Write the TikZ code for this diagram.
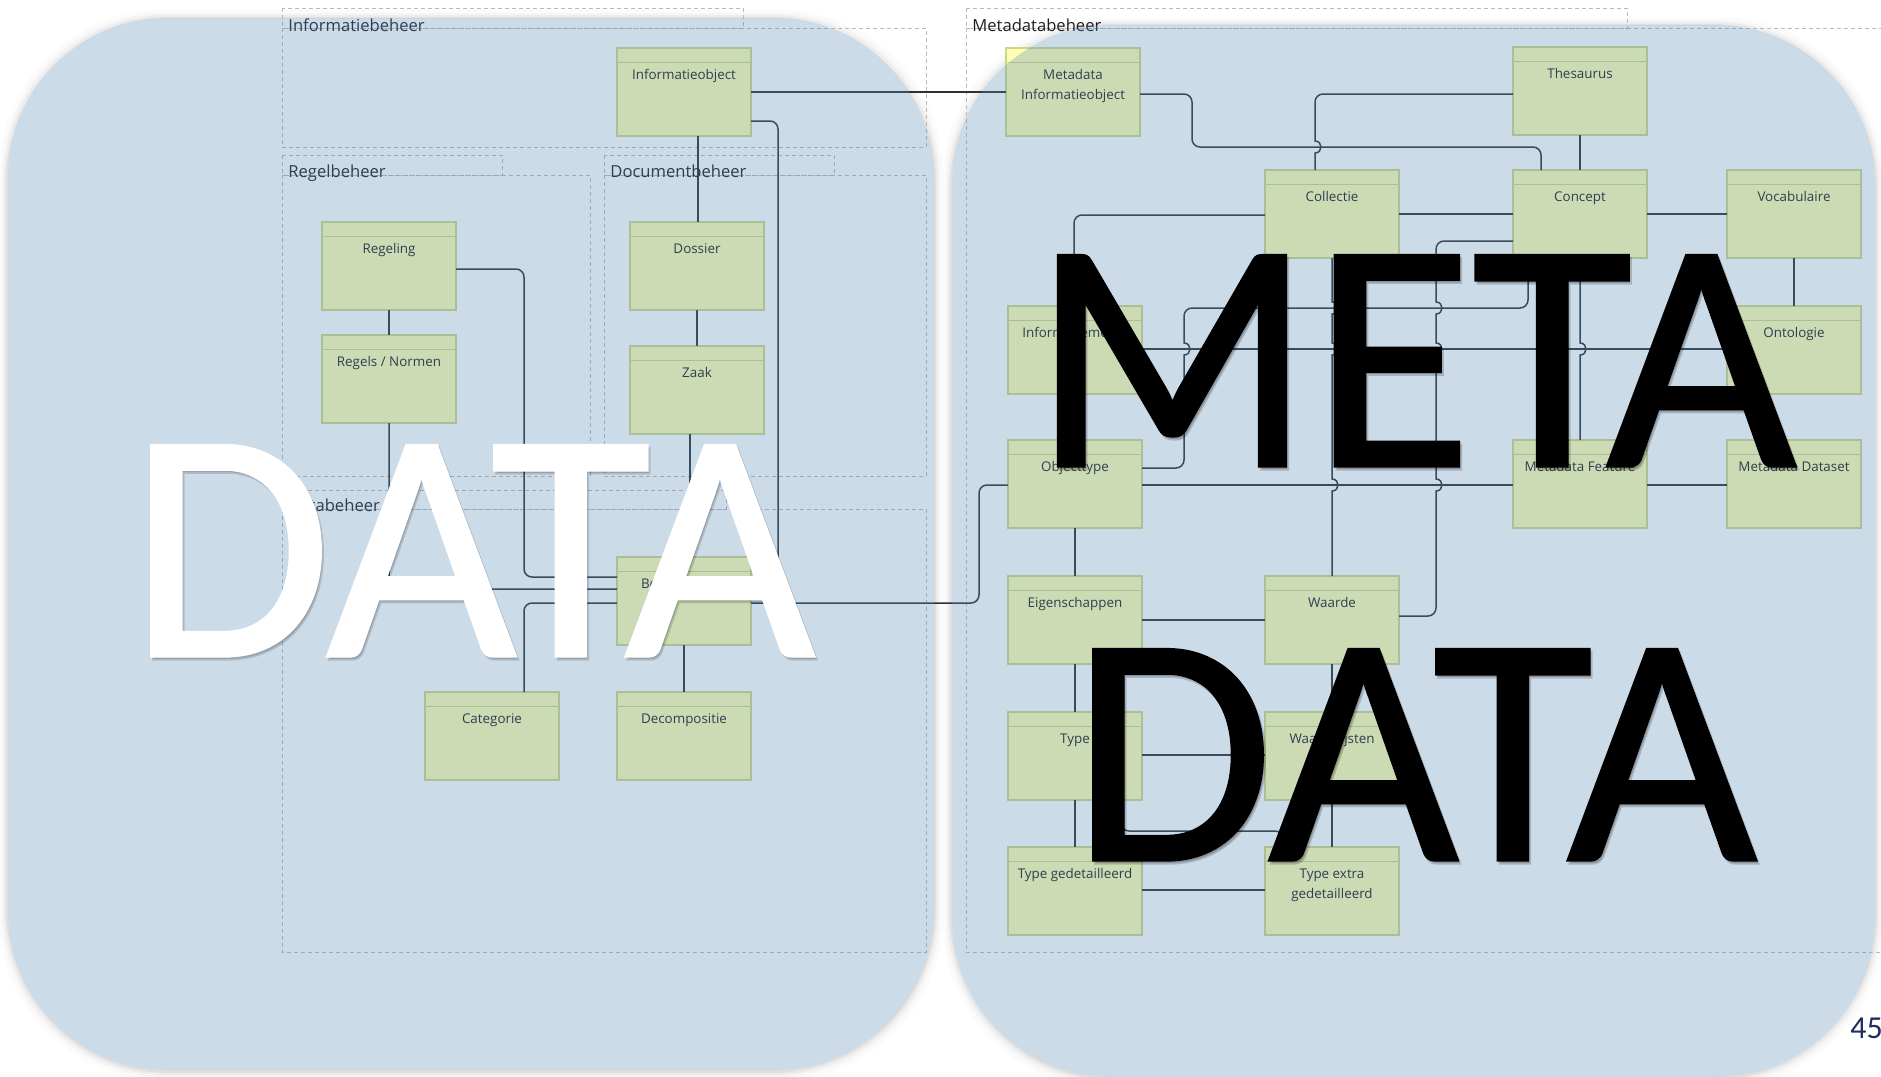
\documentclass[tikz,border=0pt]{standalone}
\usepackage{fontspec}
\usetikzlibrary{calc}
\newfontfamily\boxfont{Open Sans}
\newfontfamily\bigfont{Carlito}[FakeBold=1]
\newfontfamily\numfont{Carlito}
\definecolor{veil}{RGB}{88,138,182}
\definecolor{boxfill}{RGB}{255,255,180}
\definecolor{boxline}{RGB}{205,215,135}
\definecolor{wire}{RGB}{45,48,55}
\definecolor{frameline}{RGB}{185,185,185}
\definecolor{txt}{RGB}{30,30,35}
\definecolor{pagenum}{RGB}{31,45,90}

\tikzset{
  conn/.style={draw=wire, line width=0.75pt},
  rc/.style={rounded corners=4pt},
  frame/.style={draw=frameline, line width=0.5pt, dash pattern=on 2pt off 1.5pt},
  grouplabel/.style={anchor=base west, inner sep=0pt, font=\boxfont\fontsize{8.3}{10}\selectfont, text=txt},
  box/.style={draw=boxline, fill=boxfill, line width=0.6pt, minimum width=67pt, minimum height=44pt,
              inner sep=0pt, outer sep=0pt, anchor=north west},
  hdr/.style={draw=boxline, line width=0.5pt},
  boxtext/.style={anchor=base, align=center, inner sep=0pt, text=txt,
                  font=\boxfont\fontsize{6.7}{10}\selectfont},
  hop/.style args={#1/#2}{insert path={-- (#1,#2-6) .. controls (#1+8,#2-6) and (#1+8,#2+6) .. (#1,#2+6)}},
  bigword/.style={anchor=base, inner sep=0pt, font=\bigfont\fontsize{164}{164}\selectfont},
  blobshape/.style={rounded corners=80pt}
}

% class box: name, x, y (top left, px), label
\newcommand\umlbox[4]{%
  \node[box] (#1) at (#2,#3) {};
  \draw[hdr] ([yshift=-7pt]#1.north west) -- ([yshift=-7pt]#1.north east);
  \node[boxtext] at ([yshift=-15.5pt]#1.north) {#4};
}
% class box with a two-line label (base anchor sits on the second line)
\newcommand\umlboxtwo[4]{%
  \node[box] (#1) at (#2,#3) {};
  \draw[hdr] ([yshift=-7pt]#1.north west) -- ([yshift=-7pt]#1.north east);
  \node[boxtext] at ([yshift=-25.5pt]#1.north) {#4};
}

\begin{document}
\begin{tikzpicture}[x=0.5pt, y=-0.5pt]
\useasboundingbox (0,0) rectangle (1881,1077);
\fill[white] (0,0) rectangle (1881,1077);

% soft shadows around the two panels
\foreach \k/\o in {2/0.05, 4/0.035, 6/0.025, 9/0.015} {
  \fill[black, opacity=\o, even odd rule]
    [rounded corners=82pt] (8-\k,18-\k+1) rectangle (934+\k,1070+\k+1)
    [rounded corners=80pt] (8,18) rectangle (934,1070);
  \fill[black, opacity=\o, even odd rule]
    [rounded corners=82pt] (952-\k,25-\k+1) rectangle (1875+\k,1077+\k+1)
    [rounded corners=80pt] (952,25) rectangle (1875,1077);
}

% package frames
\draw[frame] (282,8) rectangle (743,28);
\draw[frame] (282,28) rectangle (926,147);
\draw[frame] (282,155) rectangle (502,175);
\draw[frame] (282,175) rectangle (590,476);
\draw[frame] (604,155) rectangle (834,175);
\draw[frame] (604,175) rectangle (926,476);
\draw[frame] (282,490) rectangle (726,509);
\draw[frame] (282,509) rectangle (926,952);
\draw[frame] (966,8) rectangle (1627,28);
\draw[frame] (966,28) rectangle (1890,952);

% class boxes
\umlbox{io}{617}{48}{Informatieobject}
\umlbox{reg}{322}{222}{Regeling}
\umlbox{rn}{322}{335}{Regels / Normen}
\umlbox{dos}{630}{222}{Dossier}
\umlbox{zaak}{630}{346}{Zaak}
\umlbox{bo}{617}{557}{Bedrijfsobject}
\umlbox{cat}{425}{692}{Categorie}
\umlbox{dec}{617}{692}{Decompositie}

\umlboxtwo{mio}{1006}{48}{Metadata\\Informatieobject}
\umlbox{thes}{1513}{47}{Thesaurus}
\umlbox{coll}{1265}{170}{Collectie}
\umlbox{conc}{1513}{170}{Concept}
\umlbox{voc}{1727}{170}{Vocabulaire}
\umlbox{im}{1008}{306}{Informatiemodel}
\umlbox{onto}{1727}{306}{Ontologie}
\umlbox{ot}{1008}{440}{Objecttype}
\umlbox{mf}{1513}{440}{Metadata Feature}
\umlbox{md}{1727}{440}{Metadata Dataset}
\umlbox{eig}{1008}{576}{Eigenschappen}
\umlbox{waarde}{1265}{576}{Waarde}
\umlbox{type}{1008}{712}{Type}
\umlbox{wl}{1265}{712}{Waardelijsten}
\umlbox{tg}{1008}{847}{Type gedetailleerd}
\umlboxtwo{teg}{1265}{847}{Type extra\\gedetailleerd}

% connectors, data side
\draw[conn] (io.east |- 0,92) -- (mio.west |- 0,92);
\draw[conn,rc] (io.east |- 0,121) -- (778,121) -- (778,577) -- (bo.east |- 0,577);
\draw[conn] (698,0 |- io.south) -- (698,0 |- dos.north);
\draw[conn] (697,0 |- dos.south) -- (697,0 |- zaak.north);
\draw[conn] (690,0 |- zaak.south) -- (690,0 |- bo.north);
\draw[conn] (389,0 |- reg.south) -- (389,0 |- rn.north);
\draw[conn,rc] (389,0 |- rn.south) -- (389,589) -- (bo.west |- 0,589);
\draw[conn,rc] (reg.east |- 0,269) -- (524,269) -- (524,577) -- (bo.west |- 0,577);
\draw[conn,rc] (524,0 |- cat.north) -- (524,603) -- (bo.west |- 0,603);
\draw[conn] (684,0 |- dec.north) -- (684,0 |- bo.south);
\draw[conn,rc] (bo.east |- 0,603) -- (979,603) -- (979,485) -- (ot.west |- 0,485);

% connectors, metadata side
\draw[conn,rc] (mio.east |- 0,94) -- (1192,94) -- (1192,147) -- (1541,147) -- (1541,0 |- conc.north);
\draw[conn,rc] (thes.west |- 0,94) -- (1315,94) -- (1315,135);
\draw[conn] (1315,135) [hop=1315/147] -- (1315,0 |- coll.north);
\draw[conn] (1580,0 |- thes.south) -- (1580,0 |- conc.north);
\draw[conn,rc] (coll.west |- 0,215) -- (1074,215) -- (1074,0 |- im.north);
\draw[conn] (coll.east |- 0,214) -- (conc.west |- 0,214);
\draw[conn] (conc.east |- 0,214) -- (voc.west |- 0,214);
\draw[conn,rc] (conc.west |- 0,241) -- (1436,241) -- (1436,296);
\draw[conn] (1436,296) [hop=1436/308] [hop=1436/349] [hop=1436/485] -- (1436,500);
\draw[conn,rc] (1436,500) -- (1436,616) -- (waarde.east |- 0,616);
\draw[conn] (1794,0 |- voc.south) -- (1794,0 |- onto.north);
\draw[conn] (1580,0 |- conc.south) [hop=1580/349] -- (1580,0 |- mf.north);
\draw[conn,rc] (1528,0 |- conc.south) -- (1528,308) -- (1184,308) -- (1184,336);
\draw[conn] (1184,336) [hop=1184/349] -- (1184,362);
\draw[conn,rc] (1184,362) -- (1184,468) -- (ot.east |- 0,468);
\draw[conn] (im.east |- 0,349) -- (onto.west |- 0,349);
\draw[conn] (ot.east |- 0,485) -- (mf.west |- 0,485);
\draw[conn] (mf.east |- 0,485) -- (md.west |- 0,485);
\draw[conn] (1332,0 |- coll.south) [hop=1332/308] [hop=1332/349] [hop=1332/485] -- (1332,0 |- waarde.north);
\draw[conn] (1075,0 |- ot.south) -- (1075,0 |- eig.north);
\draw[conn] (eig.east |- 0,620) -- (waarde.west |- 0,620);
\draw[conn] (1075,0 |- eig.south) -- (1075,0 |- type.north);
\draw[conn] (1332,0 |- waarde.south) -- (1332,0 |- wl.north);
\draw[conn] (type.east |- 0,755) -- (wl.west |- 0,755);
\draw[conn] (1075,0 |- type.south) -- (1075,0 |- tg.north);
\draw[conn] (1332,0 |- wl.south) -- (1332,0 |- teg.north);
\draw[conn] (tg.east |- 0,890) -- (teg.west |- 0,890);
\draw[conn,rc] (1121,0 |- type.south) -- (1121,831) -- (1283,831) -- (1283,0 |- teg.north);

% package names
\node[grouplabel] at (288,31) {Informatiebeheer};
\node[grouplabel] at (288,177) {Regelbeheer};
\node[grouplabel] at (610,177) {Documentbeheer};
\node[grouplabel] at (288,511) {Databeheer};
\node[grouplabel] at (972,31) {Metadatabeheer};

% translucent panels
\fill[veil, opacity=0.3, blobshape] (8,18) rectangle (934,1070);
\fill[veil, opacity=0.3, blobshape] (952,25) rectangle (1875,1077);

% large captions with a faint shadow
\node[bigword, text=black, opacity=0.14] at (474,659) {DATA};
\node[bigword, text=white] at (472,656) {DATA};
\node[bigword, text=black, opacity=0.18] at (1416,469) {META};
\node[bigword, text=black] at (1414,466) {META};
\node[bigword, text=black, opacity=0.18] at (1416,863) {DATA};
\node[bigword, text=black] at (1414,860) {DATA};

% page number
\node[anchor=base west, inner sep=0pt, text=pagenum, font=\numfont\fontsize{16}{16}\selectfont] at (1850,1038) {45};
\end{tikzpicture}
\end{document}
